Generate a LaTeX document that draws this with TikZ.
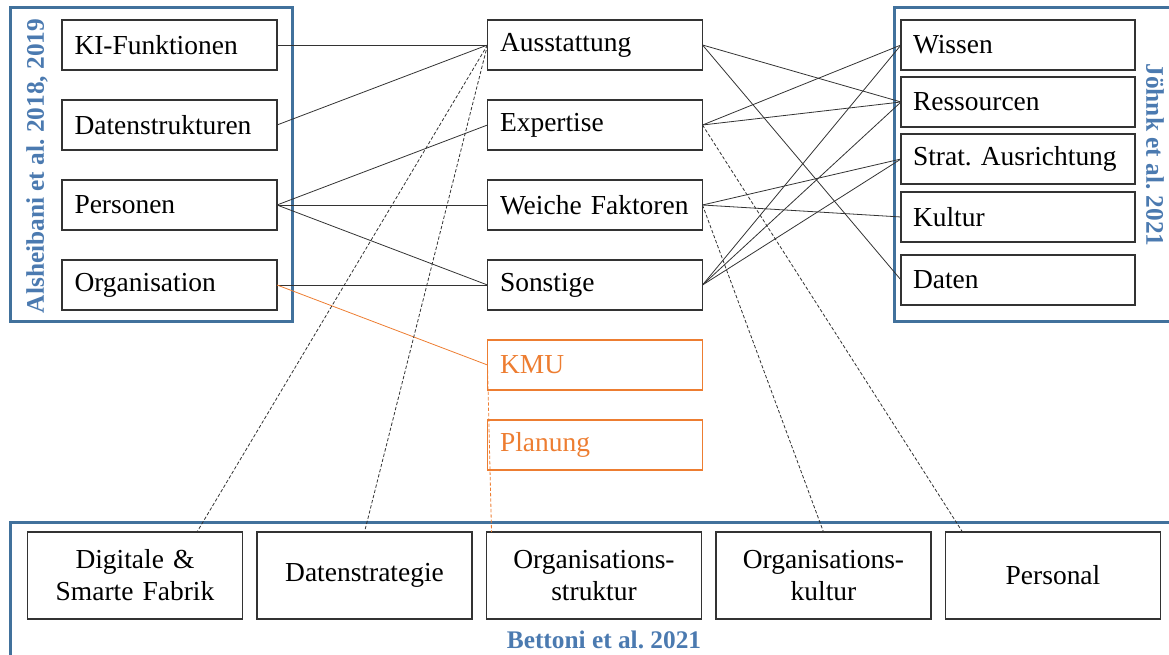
\documentclass[tikz,border=0pt]{standalone}
\usepackage{fontspec}
\setmainfont{Liberation Serif}
\usetikzlibrary{positioning}
\definecolor{frameblue}{RGB}{65,113,156}
\definecolor{labelblue}{RGB}{75,122,176}
\definecolor{kmuorange}{RGB}{237,125,49}
\frenchspacing

\begin{document}
\begin{tikzpicture}[
    x=0.75pt, y=-0.75pt,
    box/.style={rectangle, draw=black!80, line width=1pt, outer sep=0pt, minimum width=161.25pt, minimum height=37.5pt, text width=142.5pt, inner xsep=9pt, align=left, font=\fontsize{20.6pt}{24pt}\selectfont},
    widebox/.style={box, minimum width=175.5pt, text width=157.5pt},
    kmubox/.style={box, draw=kmuorange, text=kmuorange},
    lowbox/.style={box, minimum height=65.25pt, align=center},
    frame/.style={draw=frameblue, line width=2.25pt},
    group/.style={text=labelblue, font=\fontsize{19pt}{22pt}\selectfont\bfseries},
    link/.style={black!80, line width=0.6pt},
    dlink/.style={link, dash pattern=on 2.5pt off 1.5pt},
    olink/.style={kmuorange, line width=0.6pt}
]
\clip (0,0) rectangle (1169,655);

% Frames
\draw[frame] (10,8) rectangle (292,322);
\draw[frame] (894,8) rectangle (1180,322);
\draw[frame] (10,522) rectangle (1180,670);

% Alsheibani
\node[box] (ki) at (169.5,45) {KI-Funktionen};
\node[box, below=22.5pt of ki] (ds) {Datenstrukturen};
\node[box, below=22.5pt of ds] (pers) {Personen};
\node[box, below=22.5pt of pers] (org) {Organisation};

% Middle column
\node[box] (aus) at (595,45) {Ausstattung};
\node[box, below=22.5pt of aus] (exp) {Expertise};
\node[box, below=22.5pt of exp] (wf) {Weiche Faktoren};
\node[box, below=22.5pt of wf] (son) {Sonstige};
\node[kmubox, below=22.5pt of son] (kmu) {KMU};
\node[kmubox, below=22.5pt of kmu] (plan) {Planung};

% Joehnk
\node[widebox] (wis) at (1018,45) {Wissen};
\node[widebox, below=5.25pt of wis] (res) {Ressourcen};
\node[widebox, below=5.25pt of res] (strat) {Strat. Ausrichtung};
\node[widebox, below=6pt of strat] (kul) {Kultur};
\node[widebox, below=9.75pt of kul] (dat) {Daten};

% Bettoni
\node[lowbox] (dsf) at (135,575.5) {Digitale \&\\Smarte Fabrik};
\node[lowbox, right=10.875pt of dsf] (dstr) {Datenstrategie};
\node[lowbox, right=10.875pt of dstr] (os) {Organisations-\\struktur};
\node[lowbox, right=10.875pt of os] (okult) {Organisations-\\kultur};
\node[lowbox, right=10.875pt of okult] (pl) {Personal};

% Group labels
\node[group, rotate=90] (alsh) at (37,166) {Alsheibani et al. 2018, 2019};
\node[group, rotate=-90] (joehnk) at (1155,155) {Jöhnk et al. 2021};
\node[group] (bett) at (604,640) {Bettoni et al. 2021};

% Links left
\draw[link] (ki.east) -- (aus.west);
\draw[link] (ds.east) -- (aus.west);
\draw[link] (pers.east) -- (exp.west);
\draw[link] (pers.east) -- (wf.west);
\draw[link] (pers.east) -- (son.west);
\draw[link] (org.east) -- (son.west);
\draw[olink] (org.east) -- (kmu.west);
\draw[olink, dash pattern=on 2.5pt off 1.5pt] (kmu.west) -- ([xshift=3.75pt]os.north west);

% Links right
\draw[link] (aus.east) -- (res.west);
\draw[link] (aus.east) -- (dat.west);
\draw[link] (exp.east) -- (wis.west);
\draw[link] (exp.east) -- (res.west);
\draw[link] (wf.east) -- (strat.west);
\draw[link] (wf.east) -- (kul.west);
\draw[link] (son.east) -- (wis.west);
\draw[link] (son.east) -- (res.west);
\draw[link] (son.east) -- (strat.west);

% Links down
\draw[dlink] (aus.west) -- ([xshift=46.5pt]dsf.north);
\draw[dlink] (aus.west) -- (dstr.north);
\draw[dlink] (wf.east) -- (okult.north);
\draw[dlink] (exp.east) -- ([xshift=12.75pt]pl.north west);

\end{tikzpicture}
\end{document}
